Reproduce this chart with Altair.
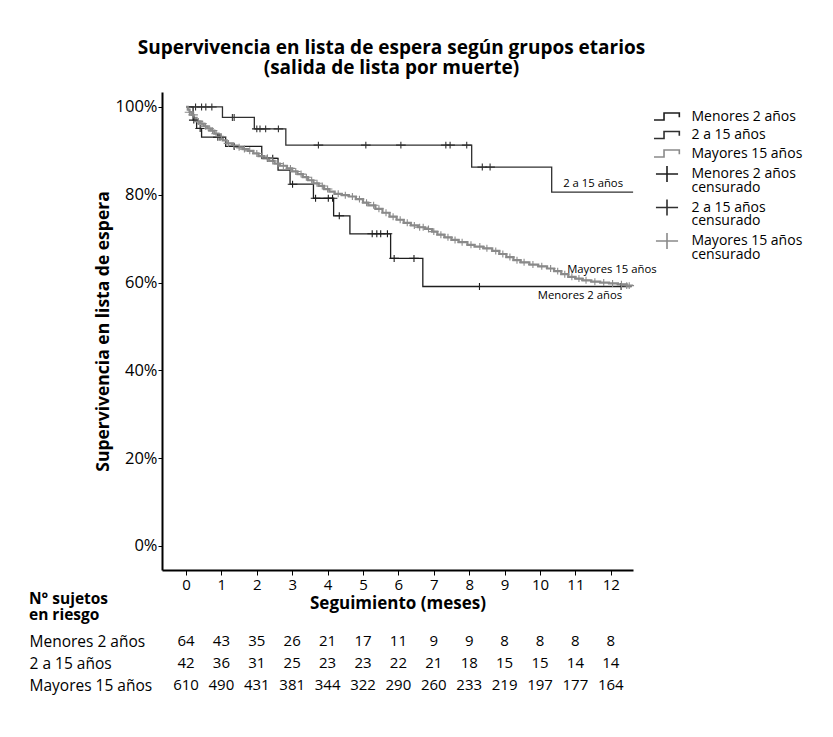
import altair as alt
import pandas as pd

FONT = "Open Sans"

# ---------------- data ----------------
GROUPS = ["Menores 2 años", "\u00a02 a 15 años", "Mayores 15 años"]
CENS_LABELS = ["Menores 2 años|censurado", "\u00a02 a 15 años|censurado", "Mayores 15 años|censurado"]

# Kaplan-Meier steps (months, % survival)
men_t = [0, 0.20, 0.30, 0.44, 1.12, 2.14, 2.60, 2.94, 3.60, 4.17, 4.63, 5.78, 6.69, 12.59]
men_s = [100, 97.0, 95.1, 93.1, 91.0, 88.3, 85.6, 82.4, 79.2, 75.2, 71.1, 65.5, 59.1, 59.1]
men_c = [0.22, 0.40, 0.90, 0.96, 1.36, 2.30, 2.45, 3.01, 3.66, 4.02, 4.14, 4.33,
         5.26, 5.39, 5.50, 5.69, 5.88, 6.44, 8.29, 12.29]

mid_t = [0, 1.03, 1.93, 2.82, 8.07, 10.33, 12.63]
mid_s = [100, 97.6, 95.0, 91.3, 86.3, 80.6, 80.6]
mid_c = [0.27, 0.44, 0.56, 0.73, 1.31, 1.36, 2.00, 2.09, 2.25, 2.61, 3.74, 5.08,
         6.07, 7.34, 7.46, 7.93, 8.37, 8.59]

may_t = [0.00, 0.05, 0.10, 0.15, 0.22, 0.30, 0.40, 0.50, 0.60, 0.70, 0.80, 0.92,
         1.04, 1.15, 1.30, 1.45, 1.60, 1.75, 1.90, 2.05, 2.20, 2.35, 2.50, 2.65,
         2.85, 3.00, 3.15, 3.30, 3.45, 3.60, 3.75, 3.90, 4.05, 4.20, 4.40, 4.60,
         4.80, 5.00, 5.15, 5.35, 5.55, 5.75, 5.95, 6.15, 6.35, 6.55, 6.75, 6.95,
         7.10, 7.30, 7.50, 7.70, 7.95, 8.15, 8.40, 8.65, 8.85, 9.05, 9.25, 9.45,
         9.70, 9.95, 10.20, 10.40, 10.60, 10.80, 11.00, 11.20, 11.45, 11.70, 11.95,
         12.20, 12.45, 12.60]
may_s = [100.0, 99.4, 98.8, 98.2, 97.5, 96.7, 96.2, 95.6, 95.1, 94.6, 93.9, 93.2,
         92.4, 91.7, 91.2, 90.8, 90.4, 90.0, 89.4, 88.8, 88.3, 87.7, 87.1, 86.6,
         86.0, 85.3, 84.7, 84.0, 83.3, 82.6, 82.0, 81.3, 80.7, 80.2, 79.9, 79.6,
         79.0, 78.2, 77.6, 76.8, 75.9, 75.0, 74.3, 73.6, 73.0, 72.6, 72.2, 71.6,
         70.9, 70.3, 69.7, 69.2, 68.6, 68.2, 67.8, 67.2, 66.5, 65.8, 65.1, 64.6,
         64.1, 63.7, 63.2, 62.6, 61.9, 61.3, 60.9, 60.5, 60.2, 60.0, 59.8,
         59.6, 59.3, 59.2]
may_c = [0.10, 0.20, 0.35, 0.45, 0.55, 0.65, 0.75, 0.85, 1.00, 1.20, 1.35, 1.50,
         1.65, 1.80, 2.00, 2.15, 2.30, 2.45, 2.60, 2.75, 2.95, 3.10, 3.25, 3.40,
         3.55, 3.70, 3.85, 4.00, 4.30, 4.50, 4.70, 4.90, 5.10, 5.30, 5.45, 5.65,
         5.85, 6.05, 6.25, 6.45, 6.60, 6.70, 6.85, 7.00, 7.20, 7.40, 7.60, 7.80,
         8.05, 8.30, 8.50, 8.75, 8.95, 9.15, 9.35, 9.55, 9.80, 10.05, 10.30, 10.50,
         10.70, 10.90, 11.10, 11.30, 11.55, 11.80, 12.05, 12.30, 12.45, 12.52]

# number at risk
months = list(range(13))
men_risk = [64, 43, 35, 26, 21, 17, 11, 9, 9, 8, 8, 8, 8]
mid_risk = [42, 36, 31, 25, 23, 23, 22, 21, 18, 15, 15, 14, 14]
may_risk = [610, 490, 431, 381, 344, 322, 290, 260, 233, 219, 197, 177, 164]

# end-of-curve labels
lab_text = ["2 a 15 años", "Mayores 15 años", "Menores 2 años"]
lab_x = [11.5, 12.03, 11.13]
lab_y = [82.4, 62.9, 56.9]

COLORS = ["#1e1e1e", "#303030", "#8a8a8a"]

# ---------------- tables ----------------
def step_df(t, s):
    return pd.DataFrame({"t": t, "s": [v / 100 for v in s]})


def surv_at(t, s, x):
    val = s[0]
    for ti, si in zip(t, s):
        if ti <= x:
            val = si
    return val


curves = [(men_t, men_s, men_c), (mid_t, mid_s, mid_c), (may_t, may_s, may_c)]

cens_rows = []
for (t, s, c), lab in zip(curves, CENS_LABELS):
    for x in c:
        cens_rows.append({"t": x, "s": surv_at(t, s, x) / 100, "key": lab})
cens_df = pd.DataFrame(cens_rows)

risk_df = pd.DataFrame(
    [{"m": m, "n": n, "g": GROUPS[i]}
     for i, arr in enumerate([men_risk, mid_risk, may_risk])
     for m, n in zip(months, arr)]
)
lab_df = pd.DataFrame({"t": lab_x, "s": [v / 100 for v in lab_y], "txt": lab_text})

X_DOMAIN = [-0.678, 12.627]
Y_DOMAIN = [-0.0547, 1.034]
W = 471
H = 478

xscale = alt.Scale(domain=X_DOMAIN, nice=False, zero=False)
yscale = alt.Scale(domain=Y_DOMAIN, nice=False, zero=False)

X_AXIS = alt.Axis(values=months, format="d", title="Seguimiento (meses)", grid=False,
                  tickSize=5, labelPadding=2, titlePadding=3, domainWidth=2,
                  domainColor="black", tickColor="black", labelFontSize=15,
                  labelOverlap=False, titleFontSize=17, titleFontWeight="bold")
Y_AXIS = alt.Axis(values=[0, 0.2, 0.4, 0.6, 0.8, 1.0], format=".0%", grid=False,
                  title="Supervivencia en lista de espera", tickSize=4, labelPadding=1,
                  titlePadding=3, domainWidth=2, domainColor="black",
                  tickColor="black", labelFontSize=16.5, titleFontSize=17.5,
                  labelOverlap=False, titleFontWeight="bold")

x_enc = alt.X("t:Q", scale=xscale, axis=X_AXIS)
y_enc = alt.Y("s:Q", scale=yscale, axis=Y_AXIS)

line_layers = []
widths = [1.3, 1.3, 2.2]
for (t, s, c), col, w in zip(curves, COLORS, widths):
    line_layers.append(
        alt.Chart(step_df(t, s)).mark_line(
            interpolate="step-after", color=col, strokeWidth=w
        ).encode(x=x_enc, y=y_enc)
    )

LEG_DOMAIN = GROUPS + CENS_LABELS
STEP = "M-1.53,0.41H-0.35V-0.41H1.45V0.08"
PLUS = "M-1.3,0H1.3M0,-0.94V0.94"

leg = alt.Legend(
    title=None, orient="none", legendX=495.5, legendY=15,
    labelExpr="split(datum.label, '|')", labelFontSize=14, labelFont=FONT,
    labelLimit=400, symbolSize=289, symbolStrokeWidth=1.6, rowPadding=1.5,
    labelOffset=15, symbolFillColor="transparent", labelColor="black",
)

cens = alt.Chart(cens_df).mark_point(filled=False, size=55, strokeWidth=1.1, opacity=1).encode(
    x=x_enc,
    y=y_enc,
    color=alt.Color("key:N", scale=alt.Scale(domain=LEG_DOMAIN, range=COLORS + COLORS), legend=leg),
    shape=alt.Shape("key:N", scale=alt.Scale(domain=LEG_DOMAIN, range=[STEP, STEP, STEP, PLUS, PLUS, PLUS]),
                    legend=leg),
)

labels = alt.Chart(lab_df).mark_text(fontSize=11.3, font=FONT, color="black").encode(
    x=x_enc, y=y_enc, text="txt:N"
)

risk_title = alt.Chart(pd.DataFrame({"a": [0]})).mark_text(
    text=["N° sujetos", "en riesgo"], align="left", baseline="middle",
    fontSize=15.5, fontWeight="bold", font=FONT, lineHeight=16, color="black",
).encode(x=alt.value(-133), y=alt.value(H + 29))

top = alt.layer(*line_layers, cens, labels, risk_title).properties(
    width=W, height=H,
    title=alt.TitleParams(
        ["Supervivencia en lista de espera según grupos etarios",
         "(salida de lista por muerte)"],
        fontSize=19, fontWeight="bold", font=FONT, anchor="middle",
        lineHeight=20, offset=14, dx=-6, color="black",
    ),
)

risk = alt.Chart(risk_df).mark_text(fontSize=15, font=FONT, color="black").encode(
    x=alt.X("m:Q", scale=xscale, axis=None),
    y=alt.Y("g:N", sort=GROUPS, scale=alt.Scale(paddingInner=0, paddingOuter=0),
            axis=alt.Axis(title=None, ticks=False, tickSize=0, domain=False,
                          labelAlign="left", labelPadding=133, labelFontSize=15.5,
                          labelFont=FONT, labelColor="black")),
    text="n:Q",
).properties(width=W, height=66)

chart = alt.vconcat(top, risk, spacing=6).properties(
    padding={"left": 21, "top": 31, "right": 5, "bottom": 5}
).configure(
    font=FONT,
    view=alt.ViewConfig(stroke=None),
    axis=alt.AxisConfig(labelFont=FONT, titleFont=FONT, labelColor="black", titleColor="black"),
    style={"guide-label": {"lineHeight": 13.5}},
)

chart.save("out.html", embed_options={"renderer": "svg", "actions": False})
